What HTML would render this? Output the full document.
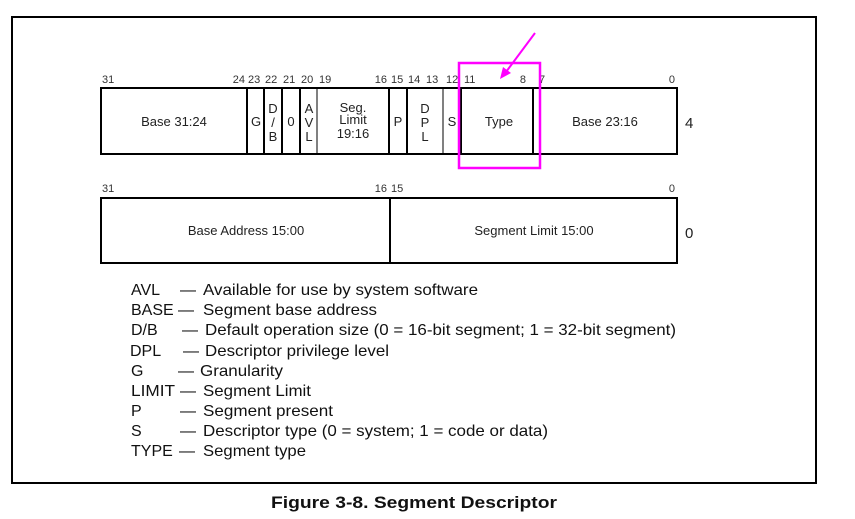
<!DOCTYPE html>
<html><head><meta charset="utf-8"><style>
html,body{margin:0;padding:0;background:#fff;}
svg{display:block;font-family:"Liberation Sans",Arial,sans-serif;}
</style></head><body>
<svg width="855" height="519" viewBox="0 0 855 519" xmlns="http://www.w3.org/2000/svg">
<rect x="12" y="17" width="804" height="466" fill="none" stroke="#000" stroke-width="2"/>
<g font-size="11" fill="#333">
<text x="102" y="83">31</text>
<text x="245" y="83" text-anchor="end">24</text>
<text x="248" y="83">23</text>
<text x="265" y="83">22</text>
<text x="283" y="83">21</text>
<text x="301" y="83">20</text>
<text x="319" y="83">19</text>
<text x="387" y="83" text-anchor="end">16</text>
<text x="391" y="83">15</text>
<text x="408" y="83">14</text>
<text x="426" y="83">13</text>
<text x="446" y="83">12</text>
<text x="464" y="83">11</text>
<text x="526" y="83" text-anchor="end">8</text>
<text x="539" y="83">7</text>
<text x="675" y="83" text-anchor="end">0</text>
<text x="102" y="192">31</text>
<text x="387" y="192" text-anchor="end">16</text>
<text x="391" y="192">15</text>
<text x="675" y="192" text-anchor="end">0</text>
</g>
<g fill="none" stroke="#000" stroke-width="2">
<rect x="101" y="88" width="576" height="66"/>
<line x1="247" y1="88" x2="247" y2="154"/>
<line x1="264" y1="88" x2="264" y2="154"/>
<line x1="282" y1="88" x2="282" y2="154"/>
<line x1="300" y1="88" x2="300" y2="154"/>
<line x1="317" y1="88" x2="317" y2="154" stroke-width="1"/>
<line x1="389" y1="88" x2="389" y2="154"/>
<line x1="407" y1="88" x2="407" y2="154"/>
<line x1="443" y1="88" x2="443" y2="154" stroke-width="1"/>
<line x1="461" y1="88" x2="461" y2="154"/>
<line x1="533" y1="88" x2="533" y2="154"/>
<rect x="101" y="198" width="576" height="65"/>
<line x1="390" y1="198" x2="390" y2="263"/>
</g>
<g font-size="13" fill="#222" text-anchor="middle">
<text x="174" y="126">Base 31:24</text>
<text x="256" y="126">G</text>
<text x="273" y="113">D</text><text x="273" y="127">/</text><text x="273" y="141">B</text>
<text x="291" y="126">0</text>
<text x="309" y="113">A</text><text x="309" y="127">V</text><text x="309" y="141">L</text>
<text x="353" y="112">Seg.</text><text x="353" y="124">Limit</text><text x="353" y="138">19:16</text>
<text x="398" y="126">P</text>
<text x="425" y="113">D</text><text x="425" y="127">P</text><text x="425" y="141">L</text>
<text x="452" y="126">S</text>
<text x="499" y="126">Type</text>
<text x="605" y="126">Base 23:16</text>
<text x="246" y="235">Base Address 15:00</text>
<text x="534" y="235">Segment Limit 15:00</text>
</g>
<text x="685" y="128" font-size="15" fill="#222">4</text>
<text x="685" y="238" font-size="15" fill="#222">0</text>
<rect x="459" y="63" width="81" height="105" fill="none" stroke="#f0f" stroke-width="2.5"/>
<line x1="535" y1="33" x2="506" y2="72" stroke="#f0f" stroke-width="2"/>
<polygon points="500,79 503,67 511,73" fill="#f0f"/>
<g font-size="16" fill="#111" lengthAdjust="spacingAndGlyphs">
<text x="131" y="295">AVL</text><text x="180" y="295">—</text><text x="203" y="295" textLength="275" lengthAdjust="spacingAndGlyphs">Available for use by system software</text>
<text x="131" y="315">BASE</text><text x="178" y="315">—</text><text x="203" y="315" textLength="174" lengthAdjust="spacingAndGlyphs">Segment base address</text>
<text x="131" y="335">D/B</text><text x="182" y="335">—</text><text x="205" y="335" textLength="471" lengthAdjust="spacingAndGlyphs">Default operation size (0 = 16-bit segment; 1 = 32-bit segment)</text>
<text x="130" y="356">DPL</text><text x="183" y="356">—</text><text x="205" y="356" textLength="184" lengthAdjust="spacingAndGlyphs">Descriptor privilege level</text>
<text x="131" y="376">G</text><text x="178" y="376">—</text><text x="200" y="376" textLength="83" lengthAdjust="spacingAndGlyphs">Granularity</text>
<text x="131" y="396" textLength="44" lengthAdjust="spacingAndGlyphs">LIMIT</text><text x="180" y="396">—</text><text x="203" y="396" textLength="108" lengthAdjust="spacingAndGlyphs">Segment Limit</text>
<text x="131" y="416">P</text><text x="180" y="416">—</text><text x="203" y="416" textLength="130" lengthAdjust="spacingAndGlyphs">Segment present</text>
<text x="131" y="436">S</text><text x="180" y="436">—</text><text x="203" y="436" textLength="345" lengthAdjust="spacingAndGlyphs">Descriptor type (0 = system; 1 = code or data)</text>
<text x="131" y="456">TYPE</text><text x="179" y="456">—</text><text x="203" y="456" textLength="103" lengthAdjust="spacingAndGlyphs">Segment type</text>
</g>
<text x="271" y="508" font-size="17" font-weight="bold" fill="#111" textLength="286" lengthAdjust="spacingAndGlyphs">Figure 3-8.  Segment Descriptor</text>
</svg>
</body></html>
